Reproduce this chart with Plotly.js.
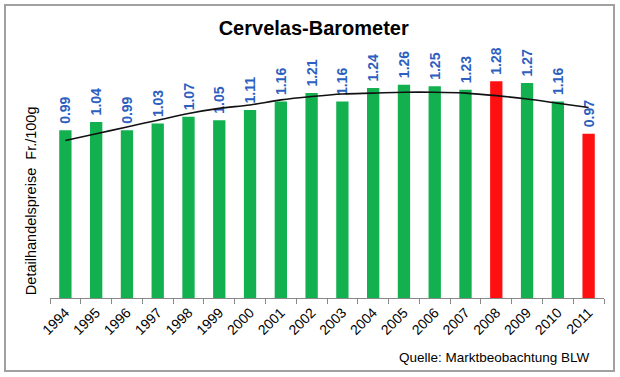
<!DOCTYPE html>
<html>
<head>
<meta charset="utf-8">
<script src="https://cdn.plot.ly/plotly-3.0.1.min.js"></script>
<style>
  html, body { margin: 0; padding: 0; background: #fff; }
  #wrap { position: relative; width: 620px; height: 377px; }
  #chart { width: 620px; height: 377px; }
  #frame { position: absolute; left: 4px; top: 4px; width: 607px; height: 364px;
           border: 2px solid #a0a0a0; pointer-events: none; }
</style>
</head>
<body>
<div id="wrap"><div id="chart"></div><div id="frame"></div></div>
<script>
const years = ['1994','1995','1996','1997','1998','1999','2000','2001','2002',
               '2003','2004','2005','2006','2007','2008','2009','2010','2011'];
const prices = [0.99,1.04,0.99,1.03,1.07,1.05,1.11,1.16,1.21,
                1.16,1.24,1.26,1.25,1.23,1.28,1.27,1.16,0.97];
const trend = [0.93,0.97,1.01,1.05,1.09,1.12,1.14,1.17,1.19,
               1.205,1.21,1.215,1.215,1.21,1.195,1.175,1.15,1.125];
const highlightYears = ['2008','2011'];

const GREEN = '#12b04f', RED = '#ff1010', BLUE = '#2d5fc0';
const FONT = 'Liberation Sans, Arial, sans-serif';

const bars = {
  type: 'bar', x: years, y: prices,
  marker: { color: years.map(y => highlightYears.includes(y) ? RED : GREEN) },
  width: 0.4,
  texttemplate: '<b>\u2005%{y:.2f}</b>', textposition: 'outside', textangle: -90,
  constraintext: 'none', cliponaxis: false,
  outsidetextfont: { family: FONT, size: 14, color: BLUE },
  hoverinfo: 'skip'
};
const line = {
  type: 'scatter', mode: 'lines', x: years, y: trend,
  line: { color: '#111', width: 1.6, shape: 'spline' }, hoverinfo: 'skip', cliponaxis: false
};

const layout = {
  width: 620, height: 377,
  margin: { l: 50, r: 16, t: 44, b: 79 },
  paper_bgcolor: '#fff', plot_bgcolor: '#fff',
  showlegend: false,
  font: { family: FONT, color: '#000' },
  title: { text: '<b>Cervelas-Barometer</b>', font: { family: FONT, size: 20, color: '#000' },
           xref: 'container', x: 0.506, xanchor: 'center', yref: 'container', y: 0.925, yanchor: 'middle' },
  xaxis: {
    type: 'category', tickson: 'boundaries', ticks: 'outside', ticklen: 5, tickcolor: '#888',
    showline: true, linecolor: '#888', linewidth: 1, showgrid: false,
    tickangle: -45, tickfont: { family: FONT, size: 14, color: '#000' }
  },
  yaxis: { visible: false, range: [0, 1.5], showgrid: false, zeroline: false },
  annotations: [
    { text: 'Detailhandelspreise  Fr./100g', xref: 'paper', yref: 'paper',
      x: -0.034, y: 0.382, xanchor: 'center', yanchor: 'middle', textangle: -90,
      showarrow: false, font: { family: FONT, size: 14.5, color: '#000' } },
    { text: 'Quelle: Marktbeobachtung BLW', xref: 'paper', yref: 'paper',
      x: 0.979, y: -0.236, xanchor: 'right', yanchor: 'middle',
      showarrow: false, font: { family: FONT, size: 13.5, color: '#000' } }
  ]
};

Plotly.newPlot('chart', [bars, line], layout, { displayModeBar: false, staticPlot: true });
</script>
</body>
</html>
